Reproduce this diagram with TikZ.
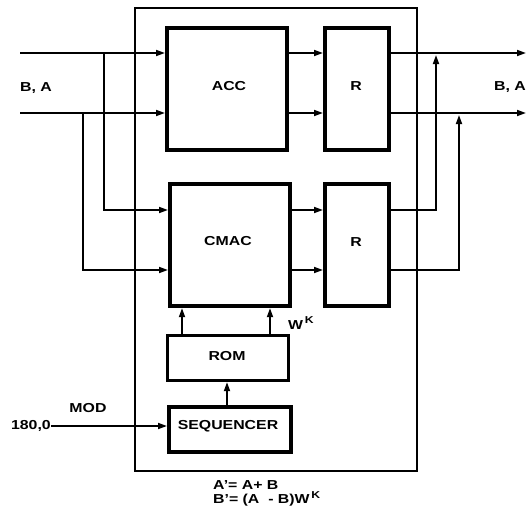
\documentclass[tikz,border=0pt]{standalone}
\usepackage{fontspec}
\setmainfont[FakeStretch=1.22]{Liberation Sans}
\usetikzlibrary{arrows.meta}
\begin{document}
\begin{tikzpicture}[x=1pt,y=-1pt,
  thinline/.style={line width=1.7pt},
  arr/.style={thinline,-{Triangle[length=9pt,width=6pt]}},
  blk/.style={draw,line width=4.2pt,inner sep=0pt},
  blkm/.style={draw,line width=3.2pt,inner sep=0pt},
  lbl/.style={inner sep=0pt,font=\bfseries\fontsize{13}{15}\selectfont}]
\useasboundingbox (0,0) rectangle (527,506);
% outer frame
\draw[thinline] (135,8) rectangle (417,471);
% blocks
\node[blk,minimum width=120pt,minimum height=122pt,anchor=north west] (acc) at (165,26) {};
\node[lbl] (accl) at (229,86) {ACC};
\node[blk,minimum width=64pt,minimum height=122pt,anchor=north west] (r1) at (323,26) {};
\node[lbl] (r1l) at (356,86) {R};
\node[blk,minimum width=120pt,minimum height=122pt,anchor=north west] (cmac) at (168,182) {};
\node[lbl] (cmacl) at (228,241) {CMAC};
\node[blk,minimum width=64pt,minimum height=122pt,anchor=north west] (r2) at (323,182) {};
\node[lbl] (r2l) at (356,242) {R};
\node[blkm,minimum width=121pt,minimum height=45pt,anchor=north west] (rom) at (166,334) {};
\node[lbl] (roml) at (227,356) {ROM};
\node[blk,minimum width=122pt,minimum height=45pt,anchor=north west] (seq) at (167,405) {};
\node[lbl] (seql) at (228,426) {SEQUENCER};
% inputs
\coordinate (in1) at (20,53);
\coordinate (in2) at (20,113);
\draw[arr] (in1) -- (acc.west |- in1);
\draw[arr] (in2) -- (acc.west |- in2);
\node[lbl,anchor=west] (ba1) at (20,88) {B, A};
\coordinate (b1) at (104,53);
\coordinate (b2) at (83,113);
\draw[arr] (b1) -- (104,210) -- (cmac.west |- 0,210);
\draw[arr] (b2) -- (83,270) -- (cmac.west |- 0,270);
% internal
\draw[arr] (acc.east |- 0,53) -- (r1.west |- 0,53);
\draw[arr] (acc.east |- 0,113) -- (r1.west |- 0,113);
\draw[arr] (cmac.east |- 0,210) -- (r2.west |- 0,210);
\draw[arr] (cmac.east |- 0,270) -- (r2.west |- 0,270);
% outputs
\coordinate (o1) at (526,53);
\coordinate (o2) at (526,113);
\draw[arr] (r1.east |- o1) -- (o1);
\draw[arr] (r1.east |- o2) -- (o2);
\node[lbl,anchor=east] (ba2) at (526,87) {B, A};
\draw[arr] (r2.east |- 0,210) -- (436,210) -- (436,55);
\draw[arr] (r2.east |- 0,270) -- (459,270) -- (459,115);
% ROM to CMAC
\draw[arr] (rom.north -| 182,0) -- (cmac.south -| 182,0);
\draw[arr] (rom.north -| 270,0) -- (cmac.south -| 270,0);
\node[lbl,anchor=west] (wk) at (288,323) {W\raisebox{0.75ex}{\fontsize{10}{11}\selectfont\,K}};
\draw[arr] (seq.north -| 227,0) -- (rom.south -| 227,0);
% MOD input
\node[lbl,anchor=east] (inmod) at (51,426) {180,0};
\node[lbl] (mod) at (88,408) {MOD};
\draw[arr] (inmod.east) -- (seq.west |- inmod.east);
% formulas
\node[lbl,anchor=west] (f1) at (213,485) {A'= A+ B};
\node[lbl,anchor=west] (f2) at (213,499) {B'= (A \ - B)W\raisebox{0.75ex}{\fontsize{10}{11}\selectfont\,K}};
\end{tikzpicture}
\end{document}
